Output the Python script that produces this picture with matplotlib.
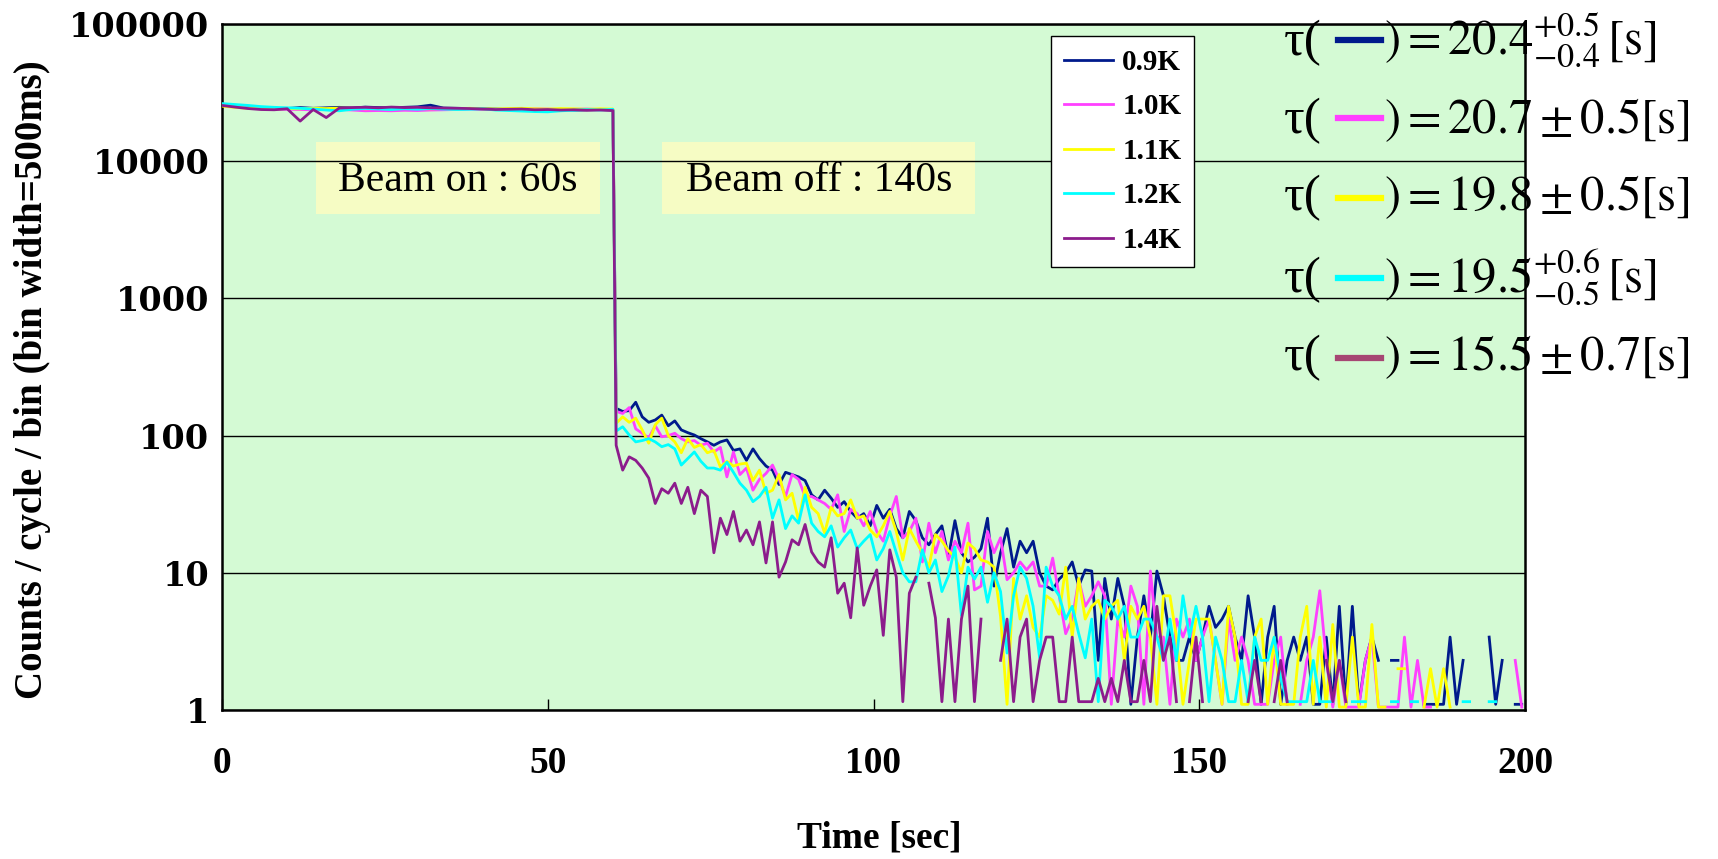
import numpy as np
import matplotlib.pyplot as plt
from matplotlib.lines import Line2D
from matplotlib.patches import Rectangle
from matplotlib.ticker import FixedLocator, NullLocator

plt.rcParams['mathtext.fontset'] = 'stix'
nan = np.nan

labels = ['0.9K', '1.0K', '1.1K', '1.2K', '1.4K']
colors = ['#001a8c', '#ff40ff', '#ffff00', '#00ffff', '#8c1c8c']
tau_colors = ['#001a8c', '#ff40ff', '#ffff00', '#00ffff', '#a64673']

# time axis: beam on (2 s steps), beam off (1 s steps)
t_on = list(range(0, 61, 2))
t_off = [60.5 + k for k in range(140)]

on_09 = [25800, 25200, 24800, 24500, 24300, 24200, 24600, 24300, 24500, 24700, 24400,
         24800, 24600, 24500, 24700, 24900, 25600, 24400, 24300, 24200, 24100, 24000,
         23900, 24100, 23800, 23700, 23900, 23600, 23700, 23800, 23600]
on_10 = [25600, 25000, 24500, 24200, 24000, 23900, 23800, 23700, 23800, 23900, 23600,
         23300, 23400, 23300, 23500, 23400, 23600, 23700, 23800, 24000, 23900, 23800,
         24000, 23900, 24100, 24000, 23800, 23900, 24000, 23800, 23700]
on_11 = [25200, 24700, 24300, 24100, 24000, 24200, 24100, 24300, 24200, 24400, 24300,
         24100, 24200, 24000, 24300, 24200, 24100, 24200, 24000, 24300, 24100, 24000,
         24200, 24300, 24100, 24000, 24200, 24100, 23900, 24100, 24000]
on_12 = [26300, 25900, 25500, 25000, 24700, 24500, 24300, 24000, 23600, 23300, 23900,
         24200, 24000, 23800, 24100, 23900, 24200, 24000, 23800, 23900, 24100, 23600,
         23400, 23200, 23000, 22900, 23300, 23500, 23800, 23600, 23900]
on_14 = [25500, 24800, 24200, 23800, 23700, 24100, 19600, 23800, 20800, 24400, 24600,
         24700, 24500, 24800, 24600, 24700, 24500, 24400, 24300, 24200, 24000, 23800,
         23900, 24000, 23700, 23800, 23600, 23700, 23500, 23600, 23400]

off_09 = [158, 150, 152, 175, 137, 125, 130, 141, 118, 128,
          110, 105, 101, 95, 90, 85, 90, 93, 78, 80,
          66, 80, 68, 60, 56, 44, 54, 52, 50, 47,
          37, 34, 40, 35, 30, 33, 28, 25, 27, 22,
          31, 25, 29, 21, 18, 28, 24, 18, 16, 19,
          22, 13, 24, 14, 12, 13, 15, 25, 8, 14,
          21, 11, 17, 14, 17, 10, 8, 7.5, 9, 10,
          12, 8, 10.5, 10.3, 2.3, 9.1, 4.6, 9.1, 5.7, 1.1,
          3.4, 6.8, 3.4, 10.3, 6.8, 3.4, 2.3, 2.3, 3.4, 2.3,
          3.4, 5.7, 4.0, 4.6, 5.7, 3.4, 2.3, 6.8, 3.4, 1.1,
          3.4, 5.7, 1.1, 2.3, 3.4, 2.3, 3.4, 1.1, 1.1, 3.4,
          1.1, 5.7, 1.1, 5.7, 1.1, 2.3, 3.4, 2.3, nan, 2.3,
          2.3, nan, nan, nan, 1.1, 1.1, 1.1, 1.1, 3.4, 1.1,
          2.3, nan, nan, nan, 3.4, 1.1, 2.3, nan, 1.1, 1.1]
off_10 = [150, 145, 160, 112, 104, 96, 118, 98, 100, 104,
          95, 90, 92, 85, 88, 76, 82, 50, 76, 52,
          58, 40, 48, 53, 61, 48, 36, 52, 48, 36,
          36, 34, 32, 29, 37, 20, 29, 27, 22, 28,
          20, 17, 26, 36, 18, 20, 25, 12, 23, 14,
          20, 12.4, 17, 14, 23, 7.5, 8, 20, 14, 18,
          8.9, 10, 12, 10.5, 12, 8, 8, 12.8, 6.8, 3.6,
          4.6, 8.9, 5.7, 6.8, 8.6, 6.8, 1.1, 4.6, 3.4, 8.0,
          5.7, 1.1, 10.3, 3.4, 3.4, 1.1, 4.6, 3.4, 4.6, 2.3,
          3.4, 4.6, 2.3, 1.1, 4.6, 2.3, 3.4, 2.3, 1.1, 1.1,
          1.1, 2.3, 3.4, 1.1, nan, 1.1, 2.3, 3.4, 7.4, 2.3,
          1.05, 2.3, 1.05, 1.05, 1.05, 2.3, 3.4, 1.05, 1.05, 1.05,
          1.05, 3.4, 1.05, 2.3, 1.05, 1.05, nan, nan, nan, nan,
          nan, nan, nan, nan, nan, nan, nan, nan, 2.3, 1.05]
off_11 = [123, 137, 125, 134, 110, 88, 120, 134, 100, 90,
          75, 95, 82, 86, 75, 78, 59, 65, 60, 62,
          63, 47, 56, 38, 40, 52, 34, 38, 24, 42,
          30, 27, 19.5, 30, 26, 27, 34, 25, 26, 20.5,
          18.3, 22, 28, 20, 12.4, 21, 17, 14, 11, 19,
          17, 14.5, 13, 10, 16.5, 15, 12.4, 12, 11, 4.8,
          1.1, 9.1, 4.6, 6.8, 4.0, 3.4, 6.8, 6.3, 5.0, 11,
          3.4, 9.1, 4.6, 5.7, 6.3, 4.6, 5.7, 6.3, 2.3, 5.7,
          4.6, 5.7, 3.4, 1.1, 6.8, 6.8, 3.4, 1.1, 2.3, 4.6,
          4.6, 4.6, 2.3, 1.1, 5.7, 3.4, 1.1, 1.1, 3.4, 4.6,
          1.1, 3.4, 1.1, 1.1, 1.1, 3.4, 5.7, 1.1, 3.4, 1.05,
          4.2, 1.05, 1.05, 3.4, 1.05, 1.05, 4.2, 1.05, 1.05, nan,
          2.0, 2.0, nan, nan, 1.05, 2.0, 1.05, 2.0, 1.05, nan,
          nan, nan, nan, nan, nan, nan, nan, nan, nan, nan]
off_12 = [108, 116, 101, 90, 92, 95, 90, 83, 86, 80,
          61, 68, 76, 65, 58, 58, 56, 64, 54, 45,
          40, 33, 36, 42, 25, 34, 21, 26, 23, 37,
          23, 20, 18.3, 22, 15.4, 18, 20.5, 15, 17, 19,
          12.4, 15, 20, 14, 10, 8.6, 8.6, 14.7, 10, 12.4,
          7.3, 9.5, 15.4, 4.9, 11, 9, 11, 6.1, 10, 7.3,
          2.6, 6.8, 11, 9.1, 5.7, 2.4, 11, 8, 6.8, 4.6,
          5.7, 3.6, 2.4, 4.6, 1.15, 6.3, 5.7, 4.6, 5.7, 3.4,
          3.4, 4.6, 4.6, 3.4, 2.3, 4.6, 2.3, 6.8, 3.4, 5.7,
          3.4, 1.15, 3.4, 2.3, 1.15, 1.15, 2.3, 1.15, 3.4, 2.3,
          2.3, 3.4, 1.7, 1.15, 1.15, 1.15, 1.15, 2.3, 1.15, 1.15,
          1.15, nan, nan, 1.15, 1.15, 1.15, nan, nan, nan, 1.15,
          1.15, nan, 1.15, 1.15, nan, nan, nan, nan, nan, nan,
          1.15, 1.15, nan, nan, 1.15, 1.15, nan, nan, nan, nan]
off_14 = [85, 56, 70, 66, 58, 49, 32, 41, 38, 45,
          32, 42, 27, 40, 36, 14, 25, 19, 28, 17,
          20.5, 16, 23.5, 11.8, 23.5, 9.3, 12, 17.4, 16, 22.5,
          14.2, 12, 11, 18, 7.1, 8.4, 4.7, 15.2, 5.8, 8,
          10.5, 3.5, 14.7, 9.3, 1.15, 7.1, 9.3, nan, 8.4, 4.7,
          1.15, 4.6, 1.15, 4.6, 8.0, 1.15, 4.6, nan, nan, 2.3,
          4.6, 1.15, 3.4, 4.6, 1.15, 2.3, 3.4, 3.4, 1.15, 1.15,
          3.4, 1.15, 1.15, 1.15, 1.7, 1.15, 1.7, 1.15, 2.3, 1.15,
          1.15, 2.3, 1.15, 5.7, 2.3, 3.4, 1.15, nan, 1.15, 3.4,
          1.15, nan, nan, 1.15, nan, nan, nan, 1.15, 2.3, 1.15,
          nan, 1.15, 2.3, 1.15, nan, nan, nan, nan, nan, 2.3,
          1.15, 2.3, 1.15, nan, nan, nan, nan, nan, nan, nan,
          nan, nan, nan, nan, nan, nan, nan, nan, nan, nan,
          nan, nan, nan, nan, nan, nan, nan, nan, nan, nan]

on_vals = [on_09, on_10, on_11, on_12, on_14]
off_vals = [off_09, off_10, off_11, off_12, off_14]

tau_texts = [r'$) = 20.4^{+0.5}_{-0.4}\,[\mathrm{s}]$',
             r'$) = 20.7 \pm 0.5[\mathrm{s}]$',
             r'$) = 19.8 \pm 0.5[\mathrm{s}]$',
             r'$) = 19.5^{+0.6}_{-0.5}\,[\mathrm{s}]$',
             r'$) = 15.5 \pm 0.7[\mathrm{s}]$']

W, H = 1718, 859
fig = plt.figure(figsize=(W / 100, H / 100), dpi=100)
ax = fig.add_axes([222 / W, 1 - 710 / H, 1303 / W, 686 / H])
ax.set_facecolor('#d4fad4')

for lab, col, on, off in zip(labels, colors, on_vals, off_vals):
    x = t_on + t_off
    y = on + off
    ax.plot(x, y, color=col, lw=2.0, label=lab, zorder=3)

ax.set_yscale('log')
ax.set_ylim(1, 100000)
ax.set_xlim(0, 200)
ax.yaxis.set_major_locator(FixedLocator([1, 10, 100, 1000, 10000, 100000]))
ax.yaxis.set_minor_locator(NullLocator())
ax.set_yticklabels(['1', '10', '100', '1000', '10000', '100000'],
                   family='DejaVu Serif', fontweight='bold', fontsize=24)
ax.set_xticks([0, 50, 100, 150, 200])
ax.set_xticklabels(['0', '50', '100', '150', '200'],
                   family='Liberation Serif', fontweight='bold', fontsize=27)
ax.tick_params(axis='y', length=0, pad=9)
ax.tick_params(axis='x', direction='in', length=8, width=1, pad=26)
ax.grid(axis='y', color='black', lw=1, zorder=1)
ax.set_axisbelow(True)
for s in ax.spines.values():
    s.set_linewidth(1.8)

# annotation boxes
for x0, x1, txt in [(0.072, 0.290, 'Beam on : 60s'), (0.338, 0.578, 'Beam off : 140s')]:
    ax.add_patch(Rectangle((x0, 0.723), x1 - x0, 0.105, transform=ax.transAxes,
                           facecolor='#f6fcc4', edgecolor='none', zorder=0.5))
    ax.text((x0 + x1) / 2, 0.772, txt, transform=ax.transAxes, ha='center', va='center',
            family='Liberation Serif', fontsize=30, zorder=4)

handles = [Line2D([], [], color=c, lw=2) for c in colors]
leg = ax.legend(handles, labels, loc='upper left', bbox_to_anchor=(0.636, 0.983),
                prop={'family': 'Liberation Serif', 'weight': 'bold', 'size': 21},
                frameon=True, fancybox=False, framealpha=1, edgecolor='black',
                handlelength=1.7, handletextpad=0.3, labelspacing=0.6, borderpad=0.45,
                borderaxespad=0)
leg.get_frame().set_linewidth(1.0)
leg.set_zorder(5)

fig.text(33 / W, 1 - 380 / H, 'Counts / cycle / bin (bin width=500ms)', rotation=90,
         ha='center', va='center', family='Liberation Serif', fontweight='bold', fontsize=28)
fig.text(879 / W, 1 - 838 / H, 'Time [sec]', ha='center', va='center',
         family='Liberation Serif', fontweight='bold', fontsize=27)

# tau results on the right
baselines = [55, 133, 210, 292, 370]
swatch_y = [40, 118, 198, 278, 358]
for txt, col, yb, ys in zip(tau_texts, tau_colors, baselines, swatch_y):
    fig.text(1284 / W, 1 - yb / H, 'τ(', ha='left', va='baseline',
             family='Liberation Serif', fontsize=37)
    fig.add_artist(Line2D([1338 / W, 1381 / W], [1 - ys / H, 1 - ys / H],
                          color=col, lw=4.5, transform=fig.transFigure))
    fig.text(1384 / W, 1 - yb / H, txt, ha='left', va='baseline', fontsize=35)

fig.savefig('out.png', dpi=100)
